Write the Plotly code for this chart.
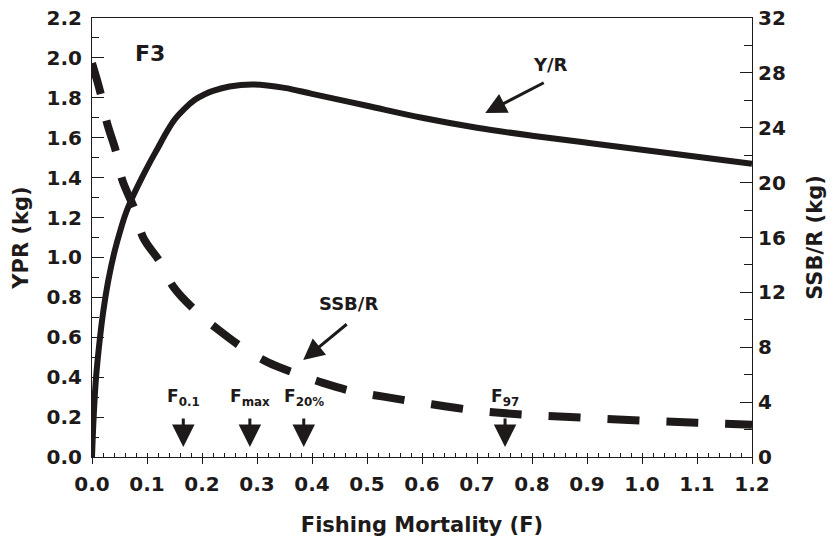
import plotly.graph_objects as go

# ---- data ----
f_yr = [0, 0.003, 0.007, 0.013, 0.02, 0.03, 0.041, 0.052, 0.062, 0.075, 0.089, 0.105,
        0.12, 0.135, 0.15, 0.168, 0.187, 0.205, 0.22, 0.25, 0.293, 0.35, 0.4, 0.5,
        0.6, 0.7, 0.8, 0.9, 1.0, 1.1, 1.2]
ypr = [0, 0.2, 0.386, 0.56, 0.72, 0.89, 1.03, 1.14, 1.225, 1.31, 1.39, 1.475,
       1.55, 1.625, 1.69, 1.745, 1.79, 1.818, 1.835, 1.857, 1.867, 1.85, 1.82, 1.76,
       1.70, 1.65, 1.61, 1.575, 1.54, 1.505, 1.47]

f_ssb = [0, 0.015, 0.027, 0.044, 0.055, 0.078, 0.093, 0.124, 0.148, 0.19, 0.23, 0.275,
         0.32, 0.37, 0.42, 0.473, 0.53, 0.6, 0.7, 0.8, 0.9, 1.0, 1.1, 1.2]
ssbr = [28.7, 26.6, 24.4, 22.2, 20.2, 18.0, 16.0, 14.2, 12.4, 10.6, 9.26, 7.94,
        6.9, 6.1, 5.4, 4.8, 4.4, 3.95, 3.38, 3.05, 2.85, 2.65, 2.5, 2.35]

ref_names = ["F<sub>0.1</sub>", "F<sub>max</sub>", "F<sub>20%</sub>", "F<sub>97</sub>"]
ref_f = [0.166, 0.287, 0.385, 0.751]

x_ticks = [round(0.1 * i, 1) for i in range(13)]
y_ticks = [round(0.2 * i, 1) for i in range(12)]
y2_ticks = list(range(0, 33, 4))

FONT = "DejaVu Sans"
INK = "#1e1a1a"

fig = go.Figure()
fig.add_trace(go.Scatter(x=f_yr, y=ypr, mode="lines", line=dict(color=INK, width=6, shape="spline"),
                         name="Y/R", showlegend=False))
fig.add_trace(go.Scatter(x=f_ssb, y=ssbr, mode="lines", yaxis="y2",
                         line=dict(color=INK, width=8, shape="spline", dash="32px,27px"),
                         name="SSB/R", showlegend=False))

ann = []
ann.append(dict(x=0.105, y=2.02, text="F3", showarrow=False, xref="x", yref="y",
                font=dict(family=FONT, size=22, color=INK, weight="bold")))
ann.append(dict(x=0.834, y=1.965, text="Y/R", showarrow=False, xref="x", yref="y",
                font=dict(family=FONT, size=18, color=INK, weight="bold")))
ann.append(dict(x=0.715, y=1.724, ax=60, ay=-31, text="", showarrow=True, xref="x", yref="y",
                arrowhead=2, arrowsize=1.4, arrowwidth=3, arrowcolor=INK))
ann.append(dict(x=0.466, y=0.77, text="SSB/R", showarrow=False, xref="x", yref="y",
                font=dict(family=FONT, size=18, color=INK, weight="bold")))
ann.append(dict(x=0.384, y=0.486, ax=45, ay=-37, text="", showarrow=True, xref="x", yref="y",
                arrowhead=2, arrowsize=1.4, arrowwidth=3, arrowcolor=INK))
for name, f in zip(ref_names, ref_f):
    ann.append(dict(x=f, y=0.05, ax=0, ay=-30, text="", showarrow=True, xref="x", yref="y",
                    arrowhead=2, arrowsize=1.5, arrowwidth=3, arrowcolor=INK))
    ann.append(dict(x=f, y=0.30, text=name, showarrow=False, xref="x", yref="y",
                    font=dict(family=FONT, size=17, color=INK, weight="bold")))
fig.update_layout(annotations=ann)

tfont = dict(family=FONT, size=20, color=INK, weight="bold")
axfont = dict(family=FONT, size=21, color=INK, weight="bold")
fig.update_layout(
    width=832, height=539,
    margin=dict(l=92, r=80, t=18, b=82),
    paper_bgcolor="white", plot_bgcolor="white",
    xaxis=dict(range=[0, 1.2], tickvals=x_ticks, ticktext=[f"{v:.1f}" for v in x_ticks],
               ticks="outside", ticklen=6, tickwidth=1, tickcolor=INK, automargin=False,
               minor=dict(ticks="inside", dtick=0.02, ticklen=4, tickcolor=INK),
               showline=True, linecolor=INK, linewidth=1, mirror=True,
               showgrid=False, zeroline=False, tickfont=tfont, ticklabelstandoff=3,
               ticklabeloverflow="allow",
               title=dict(text="Fishing Mortality (F)", font=axfont, standoff=22)),
    yaxis=dict(range=[0, 2.2], tickvals=y_ticks, ticktext=[f"{v:.1f}" for v in y_ticks],
               ticks="inside", ticklen=12, tickwidth=1, tickcolor=INK, automargin=False,
               minor=dict(ticks="inside", dtick=0.1, ticklen=7, tickcolor=INK),
               showline=True, linecolor=INK, linewidth=1,
               showgrid=False, zeroline=False, tickfont=tfont, ticklabelstandoff=5,
               ticklabeloverflow="allow",
               title=dict(text="YPR (kg)", font=axfont, standoff=12)),
    yaxis2=dict(range=[0, 32], tickvals=y2_ticks, overlaying="y", side="right",
                ticks="inside", ticklen=12, tickwidth=1, tickcolor=INK, automargin=False,
                minor=dict(ticks="inside", dtick=2, ticklen=8, tickcolor=INK),
                showline=True, linecolor=INK, linewidth=1,
                showgrid=False, zeroline=False, tickfont=tfont, ticklabelstandoff=1,
                ticklabeloverflow="allow",
                title=dict(text="SSB/R (kg)", font=axfont, standoff=22)),
)
fig.write_html("out.html", config={"displayModeBar": False},
               post_script="document.body.style.margin='0px';")
